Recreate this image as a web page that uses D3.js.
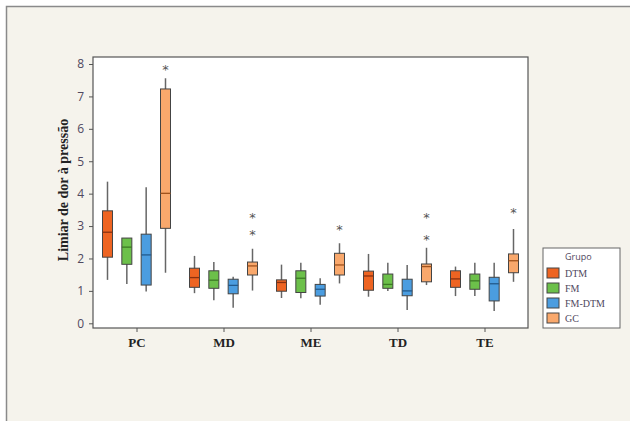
<!DOCTYPE html>
<html>
<head>
<meta charset="utf-8">
<script src="https://cdn.jsdelivr.net/npm/d3@7"></script>
<style>
  body { margin: 0; background: #ffffff; }
</style>
</head>
<body>
<div id="chart"></div>
<script>
const categories = ['PC', 'MD', 'ME', 'TD', 'TE']
const groups = ['DTM', 'FM', 'FM-DTM', 'GC']
const colors = ['#ee6422', '#6cc04a', '#4b9de0', '#f9a86c']
const medianColors = ['#8a3110', '#3d7a25', '#235a8c', '#a0521c']

// [min, q1, median, q3, max] per category
const dtmStats = [
  [1.34, 2.04, 2.81, 3.47, 4.37],
  [0.93, 1.11, 1.41, 1.70, 2.08],
  [0.78, 0.99, 1.26, 1.34, 1.81],
  [0.82, 1.02, 1.46, 1.61, 2.14],
  [0.84, 1.11, 1.37, 1.62, 1.75]
]
const fmStats = [
  [1.21, 1.82, 2.35, 2.63, 2.63],
  [0.71, 1.08, 1.33, 1.62, 1.89],
  [0.77, 0.95, 1.39, 1.62, 1.87],
  [1.00, 1.08, 1.20, 1.52, 1.87],
  [0.84, 1.05, 1.31, 1.52, 1.87]
]
const fmDtmStats = [
  [0.98, 1.18, 2.11, 2.75, 4.20],
  [0.48, 0.91, 1.17, 1.36, 1.44],
  [0.57, 0.84, 1.05, 1.20, 1.39],
  [0.41, 0.85, 1.00, 1.36, 1.80],
  [0.38, 0.69, 1.22, 1.42, 1.87]
]
const gcStats = [
  [1.56, 2.93, 4.01, 7.23, 7.56],
  [1.01, 1.49, 1.77, 1.89, 2.30],
  [1.23, 1.49, 1.80, 2.16, 2.47],
  [1.18, 1.28, 1.75, 1.83, 2.33],
  [1.28, 1.56, 1.93, 2.14, 2.91]
]
// outliers per category for the GC group
const gcOutliers = [[7.92], [2.81, 3.34], [2.98], [2.67, 3.34], [3.50]]
const yTicks = [0, 1, 2, 3, 4, 5, 6, 7, 8]

const allStats = [dtmStats, fmStats, fmDtmStats, gcStats]
const allOutliers = [[[], [], [], [], []], [[], [], [], [], []], [[], [], [], [], []], gcOutliers]

const width = 630
const height = 421
const plot = { left: 93, right: 528, top: 57, bottom: 328 }

const svg = d3
  .select('#chart')
  .append('svg')
  .attr('width', width)
  .attr('height', height)

// page background with frame
svg.append('rect')
  .attr('x', 6.5).attr('y', 6.5)
  .attr('width', width).attr('height', height)
  .attr('fill', '#f5f3ec')
  .attr('stroke', '#8a8a8a')
  .attr('stroke-width', 1.5)

svg.append('rect')
  .attr('x', plot.left).attr('y', plot.top)
  .attr('width', plot.right - plot.left).attr('height', plot.bottom - plot.top)
  .attr('fill', '#ffffff')

const x = d3.scalePoint()
  .domain(categories)
  .range([plot.left, plot.right])
  .padding(0.5)

const xGroup = d3.scalePoint()
  .domain(groups)
  .range([-29, 29])

const y = d3.scaleLinear()
  .domain([0, 8])
  .range([323.3, 64])

const boxW = 10

// y axis
const yAxis = svg.append('g')
  .attr('transform', `translate(${plot.left},0)`)
  .call(d3.axisLeft(y).tickValues(yTicks).tickSize(4).tickPadding(5))
yAxis.select('.domain').remove()
yAxis.selectAll('line').attr('stroke', '#555')
yAxis.selectAll('text')
  .attr('font-family', 'Open Sans, sans-serif')
  .attr('font-size', 12)
  .attr('fill', '#4f4860')

// x axis
const xAxis = svg.append('g')
  .attr('transform', `translate(0,${plot.bottom})`)
  .call(d3.axisBottom(x).tickSize(4).tickPadding(6))
xAxis.select('.domain').remove()
xAxis.selectAll('line').attr('stroke', '#555')
xAxis.selectAll('text')
  .attr('font-family', 'Liberation Serif, serif')
  .attr('font-weight', 'bold')
  .attr('font-size', 13)
  .attr('fill', '#222')

// plot frame
svg.append('rect')
  .attr('x', plot.left).attr('y', plot.top)
  .attr('width', plot.right - plot.left).attr('height', plot.bottom - plot.top)
  .attr('fill', 'none')
  .attr('stroke', '#555')
  .attr('stroke-width', 1.2)

// y label
svg.append('text')
  .attr('transform', 'translate(63,190) rotate(-90)')
  .attr('text-anchor', 'middle')
  .attr('dominant-baseline', 'central')
  .attr('font-family', 'Liberation Serif, serif')
  .attr('font-weight', 'bold')
  .attr('font-size', 14)
  .attr('fill', '#222')
  .text('Limiar de dor à pressão')

// boxes
groups.forEach((g, gi) => {
  const gEl = svg.append('g').attr('class', 'group-' + gi)
  const rows = allStats[gi].map((s, ci) => ({ cat: categories[ci], s: s, out: allOutliers[gi][ci] }))

  const item = gEl.selectAll('g.box')
    .data(rows)
    .enter()
    .append('g')
    .attr('class', 'box')
    .attr('transform', d => `translate(${x(d.cat) + xGroup(g)},0)`)

  item.append('line')
    .attr('x1', 0).attr('x2', 0)
    .attr('y1', d => y(d.s[0])).attr('y2', d => y(d.s[4]))
    .attr('stroke', '#666')
    .attr('stroke-width', 1.5)

  item.append('rect')
    .attr('x', -boxW / 2)
    .attr('width', boxW)
    .attr('y', d => y(d.s[3]))
    .attr('height', d => y(d.s[1]) - y(d.s[3]))
    .attr('fill', colors[gi])
    .attr('stroke', '#444')
    .attr('stroke-width', 1)

  item.append('line')
    .attr('x1', -boxW / 2).attr('x2', boxW / 2)
    .attr('y1', d => y(d.s[2])).attr('y2', d => y(d.s[2]))
    .attr('stroke', medianColors[gi])
    .attr('stroke-width', 1.3)

  item.selectAll('text.out')
    .data(d => d.out)
    .enter()
    .append('text')
    .attr('class', 'out')
    .attr('x', 0)
    .attr('y', v => y(v) + 7)
    .attr('text-anchor', 'middle')
    .attr('font-family', 'DejaVu Sans, sans-serif')
    .attr('font-size', 13)
    .attr('fill', '#555')
    .text('*')
})

// legend
const legend = svg.append('g').attr('transform', 'translate(543,248)')
legend.append('rect')
  .attr('width', 77).attr('height', 80)
  .attr('fill', '#ffffff')
  .attr('stroke', '#666')
legend.append('text')
  .attr('x', 22).attr('y', 12)
  .attr('font-family', 'Open Sans, sans-serif')
  .attr('font-size', 9)
  .attr('fill', '#4f4860')
  .text('Grupo')
const li = legend.selectAll('g.item')
  .data(groups)
  .enter()
  .append('g')
  .attr('class', 'item')
  .attr('transform', (d, i) => `translate(4,${20 + i * 15})`)
li.append('rect')
  .attr('width', 12).attr('height', 10)
  .attr('fill', (d, i) => colors[i])
  .attr('stroke', '#444')
li.append('text')
  .attr('x', 18).attr('y', 9)
  .attr('font-family', 'Liberation Serif, serif')
  .attr('font-size', 10)
  .attr('fill', '#4f4860')
  .text(d => d)
</script>
</body>
</html>
